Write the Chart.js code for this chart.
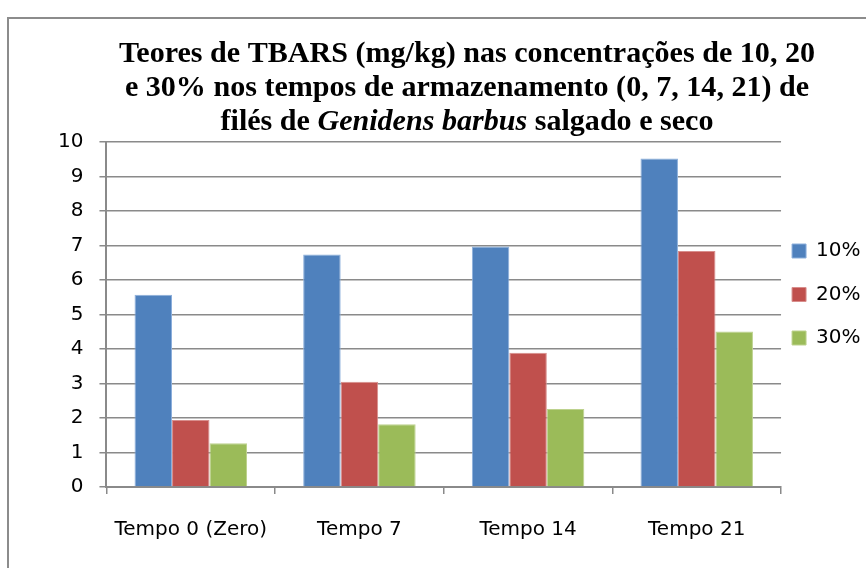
<!DOCTYPE html>
<html>
<head>
<meta charset="utf-8">
<script src="https://cdn.jsdelivr.net/npm/chart.js@4/dist/chart.umd.min.js"></script>
<style>
  html, body { margin: 0; padding: 0; background: #ffffff; }
  #wrap { position: relative; width: 866px; height: 568px; overflow: hidden; background: #ffffff; }
  #frame { position: absolute; left: 7px; top: 17px; width: 900px; height: 600px; border: 2px solid #8c8c8c; box-sizing: border-box; }
  #c { position: absolute; left: 0; top: 0; }
</style>
</head>
<body>
<div id="wrap">
  <div id="frame"></div>
  <canvas id="c" width="866" height="568"></canvas>
</div>
<script>
// ---- data ----
const categories = ['Tempo 0 (Zero)', 'Tempo 7', 'Tempo 14', 'Tempo 21'];
const seriesNames = ['10%', '20%', '30%'];
const values10 = [5.57, 6.74, 6.97, 9.52];
const values20 = [1.94, 3.05, 3.89, 6.84];
const values30 = [1.27, 1.82, 2.26, 4.51];
const yMin = 0;
const yMax = 10;
const yStep = 1;
const titleLines = [
  [{ text: 'Teores de TBARS (mg/kg) nas concentrações de 10, 20', italic: false }],
  [{ text: 'e 30% nos tempos de armazenamento (0, 7, 14, 21) de', italic: false }],
  [{ text: 'filés de ', italic: false }, { text: 'Genidens barbus', italic: true }, { text: ' salgado e seco', italic: false }]
];

// ---- styles ----
const fillColors = ['#4F81BD', '#C0504D', '#9BBB59'];
const edgeColors = ['#8DB0DC', '#D88E8C', '#BDD28E'];
const gridColor = '#8a8a8a';
const tickFont = { family: '"DejaVu Sans"', size: 20 };

const titlePlugin = {
  id: 'mixedTitle',
  afterDraw(chart) {
    const ctx = chart.ctx;
    const size = 30;
    const fam = '"Liberation Serif", "Times New Roman", serif';
    const fontFor = (it) => (it ? 'italic ' : '') + 'bold ' + size + 'px ' + fam;
    const widthOf = (line) => line.reduce((s, seg) => { ctx.font = fontFor(seg.italic); return s + ctx.measureText(seg.text).width; }, 0);
    ctx.save();
    const sx = 696 / widthOf(titleLines[0]);
    const cx = 467;
    const baselines = [62, 96, 130];
    ctx.fillStyle = '#000000';
    ctx.textBaseline = 'alphabetic';
    ctx.textAlign = 'left';
    titleLines.forEach((line, i) => {
      let x = cx - widthOf(line) * sx / 2;
      line.forEach(seg => {
        ctx.font = fontFor(seg.italic);
        const w = ctx.measureText(seg.text).width;
        ctx.save();
        ctx.translate(x, baselines[i]);
        ctx.scale(sx, 1);
        ctx.fillText(seg.text, 0, 0);
        ctx.restore();
        x += w * sx;
      });
    });
    ctx.restore();
  }
};

const legendPlacer = {
  id: 'legendPlacer',
  afterLayout(chart) {
    const l = chart.legend;
    if (!l) return;
    const pad = l.options.labels.padding;
    const dx = (chart.chartArea.right + 11 - pad) - l.left;
    const dy = (chart.chartArea.top + 99 - pad) - l.top;
    l.left += dx; l.right += dx;
    l.top += dy; l.bottom += dy;
  }
};

const seriesValues = [values10, values20, values30];

new Chart(document.getElementById('c'), {
  type: 'bar',
  data: {
    labels: categories,
    datasets: seriesNames.map((name, i) => ({
      label: name,
      data: seriesValues[i],
      backgroundColor: fillColors[i],
      borderColor: edgeColors[i],
      borderWidth: 1,
      categoryPercentage: 0.667,
      barPercentage: 1.0
    }))
  },
  options: {
    responsive: false,
    animation: false,
    devicePixelRatio: 1,
    layout: { padding: { top: 142, left: 42, right: -17, bottom: 2 } },
    plugins: {
      title: { display: false },
      tooltip: { enabled: false },
      legend: {
        position: 'right',
        align: 'start',
        labels: {
          boxWidth: 14,
          boxHeight: 14,
          padding: 23.5,
          color: '#000000',
          font: tickFont
        }
      }
    },
    scales: {
      x: {
        grid: { display: true, drawOnChartArea: false, drawTicks: true, tickLength: 7, color: gridColor, lineWidth: 1.5, offset: true },
        border: { display: true, color: gridColor, width: 2 },
        ticks: { color: '#000000', font: tickFont, padding: 24, maxRotation: 0 }
      },
      y: {
        min: yMin,
        max: yMax,
        grid: { color: gridColor, lineWidth: 1.5, drawTicks: true, tickLength: 7 },
        border: { display: true, color: gridColor, width: 2 },
        ticks: { stepSize: yStep, color: '#000000', font: tickFont, padding: 16 }
      }
    }
  },
  plugins: [titlePlugin, legendPlacer]
});
</script>
</body>
</html>
